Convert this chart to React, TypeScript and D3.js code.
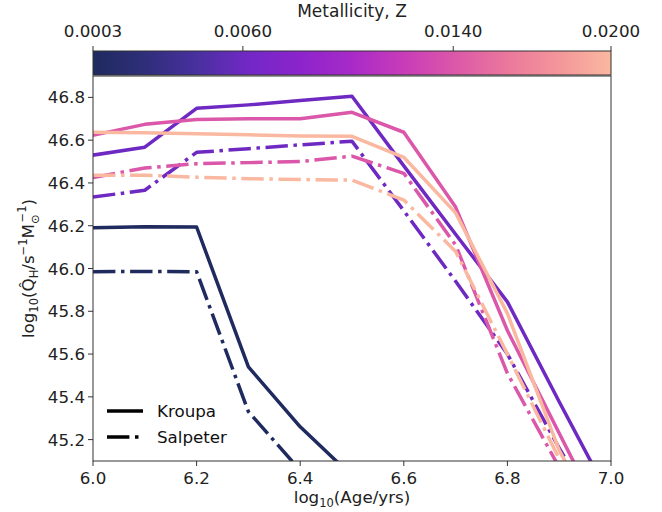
import React from "react";
import * as d3 from "d3";

const ages = [6.0, 6.1, 6.2, 6.3, 6.4, 6.5, 6.6, 6.7, 6.8, 6.9, 7.0];

const metallicities = [0.0003, 0.006, 0.014, 0.02];

// Kroupa IMF series (solid), per metallicity
const kroupa_0003 = [46.19, 46.195, 46.194, 45.54, 45.26, 45.03];
const kroupa_006 = [46.53, 46.567, 46.749, 46.765, 46.785, 46.805, 46.48, 46.16, 45.844, 45.377, 44.92];
const kroupa_014 = [46.623, 46.674, 46.697, 46.7, 46.7, 46.73, 46.637, 46.287, 45.71, 45.23, 44.75];
const kroupa_020 = [46.637, 46.635, 46.63, 46.625, 46.62, 46.618, 46.52, 46.26, 45.79, 45.15, 44.7];

// Salpeter IMF series (dash-dot), per metallicity
const salpeter_0003 = [45.985, 45.986, 45.985, 45.331, 45.056];
const salpeter_006 = [46.334, 46.366, 46.543, 46.56, 46.578, 46.595, 46.27, 45.94, 45.6, 45.16, 44.75];
const salpeter_014 = [46.425, 46.47, 46.49, 46.495, 46.5, 46.525, 46.445, 46.11, 45.51, 45.07, 44.6];
const salpeter_020 = [46.436, 46.436, 46.427, 46.42, 46.416, 46.413, 46.32, 46.08, 45.6, 45.11, 44.6];

const kroupaSeries = [kroupa_0003, kroupa_006, kroupa_014, kroupa_020];
const salpeterSeries = [salpeter_0003, salpeter_006, salpeter_014, salpeter_020];

const xTicks = [6.0, 6.2, 6.4, 6.6, 6.8, 7.0];
const yTicks = [45.2, 45.4, 45.6, 45.8, 46.0, 46.2, 46.4, 46.6, 46.8];
const cbTicks = [0.0003, 0.006, 0.014, 0.02];
const cbTickLabels = ["0.0003", "0.0060", "0.0140", "0.0200"];

const cmapStops = ["#1f2a5e", "#2f2e7a", "#48309e", "#7228c6", "#8c24cc", "#a82ac8", "#c83cb8", "#dc58a8", "#ea789c", "#f4969a", "#fab8a0"];

const W = 662, H = 512;
const L = 93, R = 611, T = 76, B = 461;
const CB_T = 51, CB_B = 75;
const FONT = "DejaVu Sans, sans-serif";
const FS = 16.7;

export default function App() {
  const x = d3.scaleLinear().domain([6.0, 7.0]).range([L, R]);
  const y = d3.scaleLinear().domain([45.1, 46.9]).range([B, T]);
  const zScale = d3.scaleLinear().domain([0.0003, 0.02]).range([L, R]);
  const cmap = d3
    .scaleLinear<string>()
    .domain(cmapStops.map((_, i) => i / (cmapStops.length - 1)))
    .range(cmapStops)
    .interpolate(d3.interpolateRgb);
  const zNorm = (z: number) => (z - 0.0003) / (0.02 - 0.0003);
  const line = d3
    .line<number>()
    .x((_, i) => x(ages[i]))
    .y((d) => y(d));

  const lw = 3.5;
  const dashdot = `${6.4 * lw} ${1.6 * lw} ${1 * lw} ${1.6 * lw}`;

  const gradStops = d3.range(0, 1.0001, 0.05);

  return (
    <svg width={W} height={H} style={{ position: "absolute", left: 0, top: 0, background: "#fff" }} fontFamily={FONT}>
      <defs>
        <clipPath id="plotclip">
          <rect x={L} y={T} width={R - L} height={B - T} />
        </clipPath>
        <linearGradient id="cbgrad" x1="0" x2="1" y1="0" y2="0">
          {gradStops.map((t, i) => (
            <stop key={i} offset={t} stopColor={cmap(t)} />
          ))}
        </linearGradient>
      </defs>

      {/* colorbar */}
      <rect x={L} y={CB_T} width={R - L} height={CB_B - CB_T} fill="url(#cbgrad)" stroke="#333" strokeWidth={1} />
      {cbTicks.map((t, i) => (
        <g key={i}>
          <line x1={zScale(t)} x2={zScale(t)} y1={CB_T} y2={CB_T - 5} stroke="#333" strokeWidth={1} />
          <text x={zScale(t)} y={37} fontSize={FS} textAnchor="middle" fill="#222">
            {cbTickLabels[i]}
          </text>
        </g>
      ))}
      <text x={(L + R) / 2} y={17} fontSize={17} textAnchor="middle" fill="#222">
        Metallicity, Z
      </text>

      {/* lines */}
      <g clipPath="url(#plotclip)" fill="none" strokeLinejoin="round">
        {metallicities.map((z, i) => (
          <g key={i}>
            <path d={line(kroupaSeries[i]) || ""} stroke={cmap(zNorm(z))} strokeWidth={lw} strokeLinecap="square" />
            <path d={line(salpeterSeries[i]) || ""} stroke={cmap(zNorm(z))} strokeWidth={lw} strokeDasharray={dashdot} strokeLinecap="butt" />
          </g>
        ))}
      </g>

      {/* axes frame */}
      <rect x={L} y={T} width={R - L} height={B - T} fill="none" stroke="#333" strokeWidth={1} />

      {/* x ticks */}
      {xTicks.map((t, i) => (
        <g key={i}>
          <line x1={x(t)} x2={x(t)} y1={B} y2={B + 5} stroke="#333" strokeWidth={1} />
          <text x={x(t)} y={484} fontSize={FS} textAnchor="middle" fill="#222">
            {t.toFixed(1)}
          </text>
        </g>
      ))}
      <text x={(L + R) / 2} y={503} fontSize={FS} textAnchor="middle" fill="#222">
        log<tspan fontSize={11.5} dy={4}>10</tspan>
        <tspan dy={-4}>(Age/yrs)</tspan>
      </text>

      {/* y ticks */}
      {yTicks.map((t, i) => (
        <g key={i}>
          <line x1={L} x2={L - 5} y1={y(t)} y2={y(t)} stroke="#333" strokeWidth={1} />
          <text x={L - 8} y={y(t) + 6} fontSize={FS} textAnchor="end" fill="#222">
            {t.toFixed(1)}
          </text>
        </g>
      ))}
      <text transform={`translate(34, ${(T + B) / 2}) rotate(-90)`} fontSize={FS} textAnchor="middle" fill="#222">
        log<tspan fontSize={11.5} dy={4}>10</tspan>
        <tspan dy={-4}>(Q̂</tspan>
        <tspan fontSize={11.5} dy={4}>H</tspan>
        <tspan dy={-4}>/s</tspan>
        <tspan fontSize={11.5} dy={-7}>−1</tspan>
        <tspan dy={7}>M</tspan>
        <tspan fontSize={11.5} dy={5}>⊙</tspan>
        <tspan fontSize={11.5} dx={-8} dy={-13}>−1</tspan>
        <tspan dy={8}>)</tspan>
      </text>

      {/* legend */}
      <g>
        <line x1={107} x2={143} y1={411} y2={411} stroke="#000" strokeWidth={lw} />
        <text x={157} y={417} fontSize={FS} fill="#111">Kroupa</text>
        <line x1={107} x2={143} y1={437} y2={437} stroke="#000" strokeWidth={lw} strokeDasharray={dashdot} />
        <text x={157} y={443} fontSize={FS} fill="#111">Salpeter</text>
      </g>
    </svg>
  );
}
